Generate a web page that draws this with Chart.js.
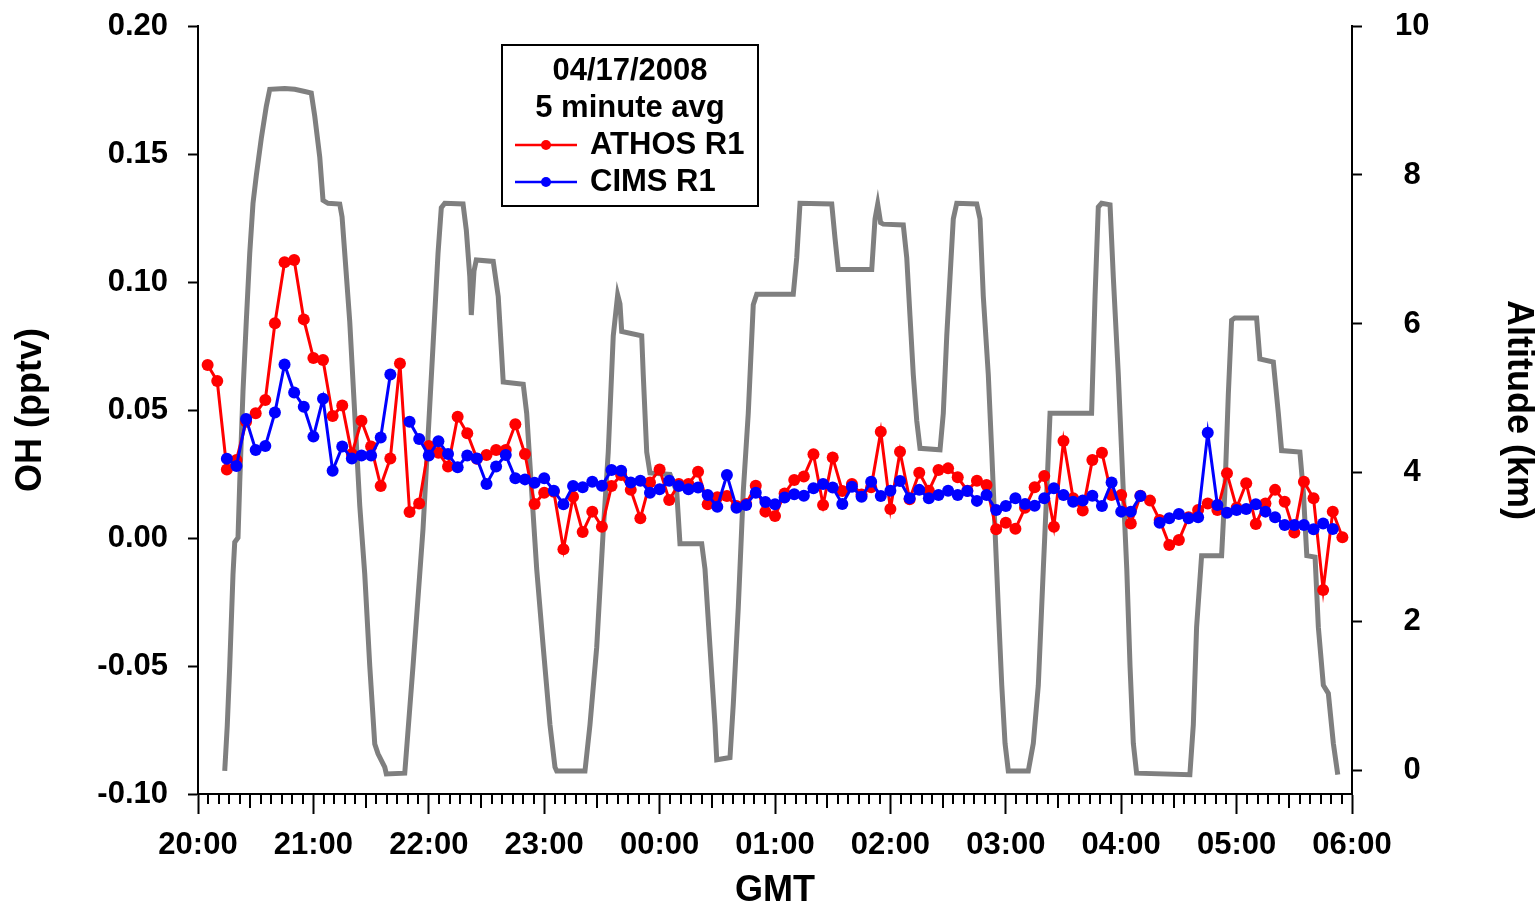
<!DOCTYPE html>
<html>
<head>
<meta charset="UTF-8">
<title>OH and altitude, 04/17/2008</title>
<script src="https://cdn.jsdelivr.net/npm/chart.js@4.4.1/dist/chart.umd.min.js"></script>
<style>
  body { margin: 0; background: #fff; }
  canvas { display: block; }
</style>
</head>
<body>
<canvas id="canvas" width="1539" height="907"></canvas>
<script>
// 5 minute slots, minutes after 20:00 (20:05 ... 05:55)
const slotMinutes = [];
for (let m = 5; m <= 595; m += 5) slotMinutes.push(m);

// OH (pptv), one row per hour
const athosR1 = [
  0.0676, 0.0613, 0.0268, 0.0305, 0.0454, 0.0487, 0.0539, 0.0839, 0.1077, 0.1086, 0.0854,
  0.0703, 0.0695, 0.0477, 0.0518, 0.0328, 0.0458, 0.0357, 0.0203, 0.0311, 0.0682, 0.0102, 0.0135,
  0.0359, 0.0333, 0.0279, 0.0474, 0.0409, 0.0310, 0.0324, 0.0344, 0.0344, 0.0444, 0.0328, 0.0133,
  0.0177, 0.0181, -0.0044, 0.0161, 0.0023, 0.0103, 0.0044, 0.0203, 0.0246, 0.0188, 0.0077, 0.0217,
  0.0268, 0.0148, 0.0211, 0.0211, 0.0259, 0.0132, 0.0159, 0.0164, 0.0125, 0.0133, 0.0204, 0.0103,
  0.0086, 0.0174, 0.0227, 0.0240, 0.0327, 0.0129, 0.0314, 0.0184, 0.0211, 0.0170, 0.0198, 0.0415,
  0.0113, 0.0337, 0.0151, 0.0255, 0.0185, 0.0266, 0.0272, 0.0237, 0.0185, 0.0224, 0.0207, 0.0034,
  0.0060, 0.0036, 0.0118, 0.0198, 0.0242, 0.0044, 0.0379, 0.0155, 0.0107, 0.0305, 0.0333, 0.0168,
  0.0168, 0.0057, 0.0165, 0.0146, 0.0070, -0.0027, -0.0008, 0.0081, 0.0109, 0.0135, 0.0109, 0.0253,
  0.0118, 0.0214, 0.0055, 0.0135, 0.0188, 0.0142, 0.0021, 0.0220, 0.0155, -0.0203, 0.0103, 0.0003
];
const cimsR1 = [
  null, null, 0.0310, 0.0281, 0.0465, 0.0344, 0.0359, 0.0490, 0.0678, 0.0568, 0.0513,
  0.0396, 0.0544, 0.0263, 0.0357, 0.0311, 0.0322, 0.0322, 0.0393, 0.0639, null, 0.0454, 0.0387,
  0.0322, 0.0378, 0.0328, 0.0276, 0.0322, 0.0311, 0.0211, 0.0279, 0.0324, 0.0233, 0.0229, 0.0216,
  0.0233, 0.0185, 0.0132, 0.0203, 0.0198, 0.0220, 0.0204, 0.0266, 0.0263, 0.0217, 0.0224, 0.0177,
  0.0190, 0.0224, 0.0203, 0.0190, 0.0197, 0.0168, 0.0122, 0.0246, 0.0118, 0.0129, 0.0177, 0.0141,
  0.0132, 0.0158, 0.0171, 0.0165, 0.0194, 0.0211, 0.0197, 0.0133, 0.0200, 0.0161, 0.0220, 0.0164,
  0.0185, 0.0223, 0.0155, 0.0188, 0.0155, 0.0168, 0.0185, 0.0168, 0.0184, 0.0145, 0.0168, 0.0109,
  0.0125, 0.0155, 0.0133, 0.0126, 0.0155, 0.0194, 0.0168, 0.0142, 0.0146, 0.0165, 0.0125, 0.0217,
  0.0103, 0.0103, 0.0164, null, 0.0060, 0.0077, 0.0094, 0.0077, 0.0081, 0.0411, 0.0129, 0.0099,
  0.0109, 0.0113, 0.0132, 0.0103, 0.0081, 0.0051, 0.0051, 0.0051, 0.0034, 0.0057, 0.0035, null
];

// flight altitude (km) vs minutes after 20:00
const altMinutes = [
  13.9, 15.2, 16.5, 18.2, 19.1, 20.8, 21.7, 23.4, 25.1, 26.9, 28.6, 30.3, 32.9, 35.5, 37.3, 45.1, 50.3, 55.5, 58.9,
  60.7, 63.3, 65.0, 67.6, 73.7, 74.9, 76.3, 78.9, 81.5, 84.1, 86.7, 89.3, 91.9, 93.6, 97.1, 97.9, 107.5, 109.2,
  111.8, 114.4, 117.0, 119.6, 122.2, 124.8, 126.5, 128.3, 137.8, 139.5, 141.3, 142.1, 143.5, 144.7, 153.5, 156.1,
  157.9, 158.7, 169.1, 170.9, 173.5, 176.1, 179.5, 183.0, 185.6, 186.5, 201.2, 203.8, 207.3, 210.7, 213.3, 215.9,
  218.2, 219.4, 220.3, 230.7, 231.5, 233.3, 235.0, 245.4, 248.9, 250.6, 261.9, 263.6, 266.2, 268.8, 269.7, 276.6,
  278.3, 280.9, 283.5, 286.1, 288.7, 290.5, 309.5, 311.3, 313.0, 329.5, 331.2, 332.9, 350.3, 352.0, 353.4, 354.9,
  356.3, 366.7, 368.5, 370.2, 371.9, 373.7, 375.4, 385.8, 387.5, 389.3, 391.0, 392.7, 394.5, 404.9, 406.6, 408.3,
  410.9, 412.7, 414.4, 416.1, 417.9, 419.6, 421.3, 431.7, 434.3, 436.9, 439.5, 441.3, 443.0, 464.6, 466.4, 468.1,
  469.8, 474.2, 475.9, 478.5, 481.1, 482.9, 484.6, 486.3, 488.0, 515.7, 517.5, 519.2, 521.8, 532.2, 533.9, 535.7,
  537.4, 539.1, 550.4, 552.1, 559.1, 561.7, 563.4, 572.9, 574.7, 576.5, 580.8, 582.5, 585.1, 587.7, 590.3, 592.6
];
const altKm = [
  0, 0.6, 1.41, 2.64, 3.07, 3.13, 3.87, 5.1, 6.03, 6.95, 7.62, 7.99, 8.49, 8.92, 9.15, 9.16, 9.15, 9.12, 9.1,
  8.79, 8.24, 7.66, 7.62, 7.61, 7.44, 6.95, 6.03, 4.79, 3.56, 2.64, 1.41, 0.36, 0.23, 0.05, -0.04, -0.03, 0.54,
  1.41, 2.33, 3.25, 4.48, 5.71, 6.95, 7.56, 7.62, 7.61, 7.26, 6.64, 6.12, 6.71, 6.86, 6.84, 6.37,
  5.58, 5.22, 5.19, 4.8, 3.75, 2.71, 1.66, 0.62, 0.05, 0, 0, 0.62, 1.66, 3.23, 4.28, 5.84,
  6.39, 6.27, 5.9, 5.84, 5.32, 4.28, 4.0, 3.98, 3.75, 3.05, 3.05, 2.71, 1.66, 0.62, 0.15, 0.18,
  0.89, 2.19, 3.75, 4.8, 6.26, 6.4, 6.4, 6.89, 7.62, 7.61, 7.15, 6.73, 6.73, 7.41, 7.61, 7.36,
  7.34, 7.33, 6.89, 6.1, 5.32, 4.7, 4.33, 4.31, 4.8, 5.84, 6.63, 7.41, 7.62, 7.61, 7.41, 6.37,
  5.32, 4.28, 3.23, 2.19, 1.15, 0.37, 0, 0, 0.37, 1.15, 2.71, 3.75, 4.8, 4.8, 6.37, 7.57,
  7.62, 7.6, 6.63, 5.32, 3.75, 2.71, 1.4, 0.37, -0.03, -0.05, 0.62, 1.93, 2.89, 2.89, 3.75, 5.06,
  6.05, 6.08, 6.08, 5.53, 5.49, 4.8, 4.3, 4.28, 3.75, 2.89, 2.87, 1.93, 1.15, 1.04, 0.37, -0.05
];

const hourLabels = ['20:00', '21:00', '22:00', '23:00', '00:00', '01:00', '02:00', '03:00', '04:00', '05:00', '06:00'];
const hourTicks = [0, 60, 120, 180, 240, 300, 360, 420, 480, 540, 600];
const ohTicks = [-0.10, -0.05, 0.00, 0.05, 0.10, 0.15, 0.20];
const altTicks = [0, 2, 4, 6, 8, 10];
const legendTitle = ['04/17/2008', '5 minute avg'];

const FONT = '"Liberation Sans", Arial, sans-serif';
const tickFont = { family: FONT, size: 31, weight: 'bold' };
const titleFont = { family: FONT, size: 36, weight: 'bold', lineHeight: 1 };

function pairs(xs, ys) {
  return xs.map((x, i) => ({ x: x, y: ys[i] }));
}

// keep the plot box where the reference has it
function fixVertical(width) {
  return s => {
    s.width = width;
    s.paddingTop = 0;
    s.paddingBottom = 0;
  };
}

// short ticks between the hours, drawn through the x scale
const minorTicks = {
  id: 'minorTicks',
  afterDraw(chart) {
    const sx = chart.scales.x;
    const ctx = chart.ctx;
    const y0 = chart.chartArea.bottom;
    ctx.save();
    ctx.strokeStyle = '#000';
    ctx.lineWidth = 2;
    for (let h = 0; h < 600; h += 60) {
      for (let k = 1; k <= 10; k++) {
        const px = Math.round(sx.getPixelForValue(h + k * 60 / 11));
        const len = k === 5 ? 14 : 10;
        ctx.beginPath();
        ctx.moveTo(px, y0);
        ctx.lineTo(px, y0 + len);
        ctx.stroke();
      }
    }
    ctx.restore();
  }
};

// boxed legend inside the plot
const boxLegend = {
  id: 'boxLegend',
  afterDraw(chart) {
    const ctx = chart.ctx;
    const ca = chart.chartArea;
    const left = ca.left + 304, top = ca.top + 19, w = 256, h = 161;
    ctx.save();
    ctx.fillStyle = '#fff';
    ctx.fillRect(left, top, w, h);
    ctx.strokeStyle = '#000';
    ctx.lineWidth = 2;
    ctx.strokeRect(left, top, w, h);
    ctx.fillStyle = '#000';
    ctx.font = 'bold 31px ' + FONT;
    ctx.textBaseline = 'middle';
    ctx.textAlign = 'center';
    legendTitle.forEach((t, i) => ctx.fillText(t, left + w / 2, top + 26 + i * 37));
    const sets = chart.data.datasets.filter(d => d.boxRow !== undefined)
      .sort((a, b) => a.boxRow - b.boxRow);
    sets.forEach((d, i) => {
      const y = top + 100 + i * 37;
      ctx.strokeStyle = d.borderColor;
      ctx.lineWidth = 2.5;
      ctx.beginPath();
      ctx.moveTo(left + 13, y);
      ctx.lineTo(left + 75, y);
      ctx.stroke();
      ctx.fillStyle = d.borderColor;
      ctx.beginPath();
      ctx.arc(left + 44, y, 5, 0, Math.PI * 2);
      ctx.fill();
      ctx.fillStyle = '#000';
      ctx.textAlign = 'left';
      ctx.fillText(d.label, left + 88, y);
    });
    ctx.restore();
  }
};

const ctx = document.getElementById('canvas').getContext('2d');
const config = {
  type: 'line',
  data: {
    datasets: [
      {
        label: 'CIMS R1',
        data: pairs(slotMinutes, cimsR1),
        borderColor: '#0000ff',
        backgroundColor: '#0000ff',
        borderWidth: 3,
        pointRadius: 6,
        pointBorderWidth: 0,
        spanGaps: false,
        yAxisID: 'y',
        order: 0,
        boxRow: 1
      },
      {
        label: 'ATHOS R1',
        data: pairs(slotMinutes, athosR1),
        borderColor: '#ff0000',
        backgroundColor: '#ff0000',
        borderWidth: 3,
        pointRadius: 6,
        pointBorderWidth: 0,
        spanGaps: false,
        yAxisID: 'y',
        order: 1,
        boxRow: 0
      },
      {
        label: 'Altitude',
        data: pairs(altMinutes, altKm),
        borderColor: '#7f7f7f',
        borderWidth: 5,
        pointRadius: 0,
        yAxisID: 'y2',
        order: 2
      }
    ]
  },
  options: {
    responsive: false,
    devicePixelRatio: 1,
    animation: false,
    layout: { padding: { left: 0, right: 0, top: 26, bottom: 0 } },
    plugins: { legend: { display: false }, tooltip: { enabled: false } },
    scales: {
      x: {
        type: 'linear',
        min: 0,
        max: 600,
        afterBuildTicks: s => { s.ticks = hourTicks.map(v => ({ value: v })); },
        afterFit: s => { s.height = 113; s.paddingLeft = 0; s.paddingRight = 0; },
        ticks: {
          callback: (v, i) => hourLabels[i],
          font: tickFont,
          color: '#000',
          padding: 13,
          autoSkip: false,
          maxRotation: 0
        },
        grid: { drawOnChartArea: false, tickLength: 20, tickWidth: 2, tickColor: '#000' },
        border: { display: true, color: '#000', width: 2 },
        title: { display: true, text: 'GMT', font: titleFont, color: '#000', padding: { top: 0, bottom: -2 } }
      },
      y: {
        position: 'left',
        min: -0.10,
        max: 0.20,
        afterBuildTicks: s => { s.ticks = ohTicks.map(v => ({ value: v })); },
        afterFit: fixVertical(198),
        ticks: {
          callback: v => v.toFixed(2),
          font: tickFont,
          color: '#000',
          padding: 20
        },
        grid: { drawOnChartArea: false, tickLength: 10, tickWidth: 2, tickColor: '#000' },
        border: { display: true, color: '#000', width: 2 },
        title: { display: true, text: 'OH (pptv)', font: titleFont, color: '#000', padding: { top: 13, bottom: 0 } }
      },
      y2: {
        position: 'right',
        min: -0.31,
        max: 10,
        afterBuildTicks: s => { s.ticks = altTicks.map(v => ({ value: v })); },
        afterFit: fixVertical(187),
        ticks: {
          font: tickFont,
          color: '#000',
          padding: 33,
          crossAlign: 'center'
        },
        grid: { drawOnChartArea: false, tickLength: 10, tickWidth: 2, tickColor: '#000' },
        border: { display: true, color: '#000', width: 2 },
        title: { display: true, text: 'Altitude (km)', font: titleFont, color: '#000', padding: { top: 3, bottom: 0 } }
      }
    }
  },
  plugins: [minorTicks, boxLegend]
};

const myChart = new Chart(ctx, config);
</script>
</body>
</html>
